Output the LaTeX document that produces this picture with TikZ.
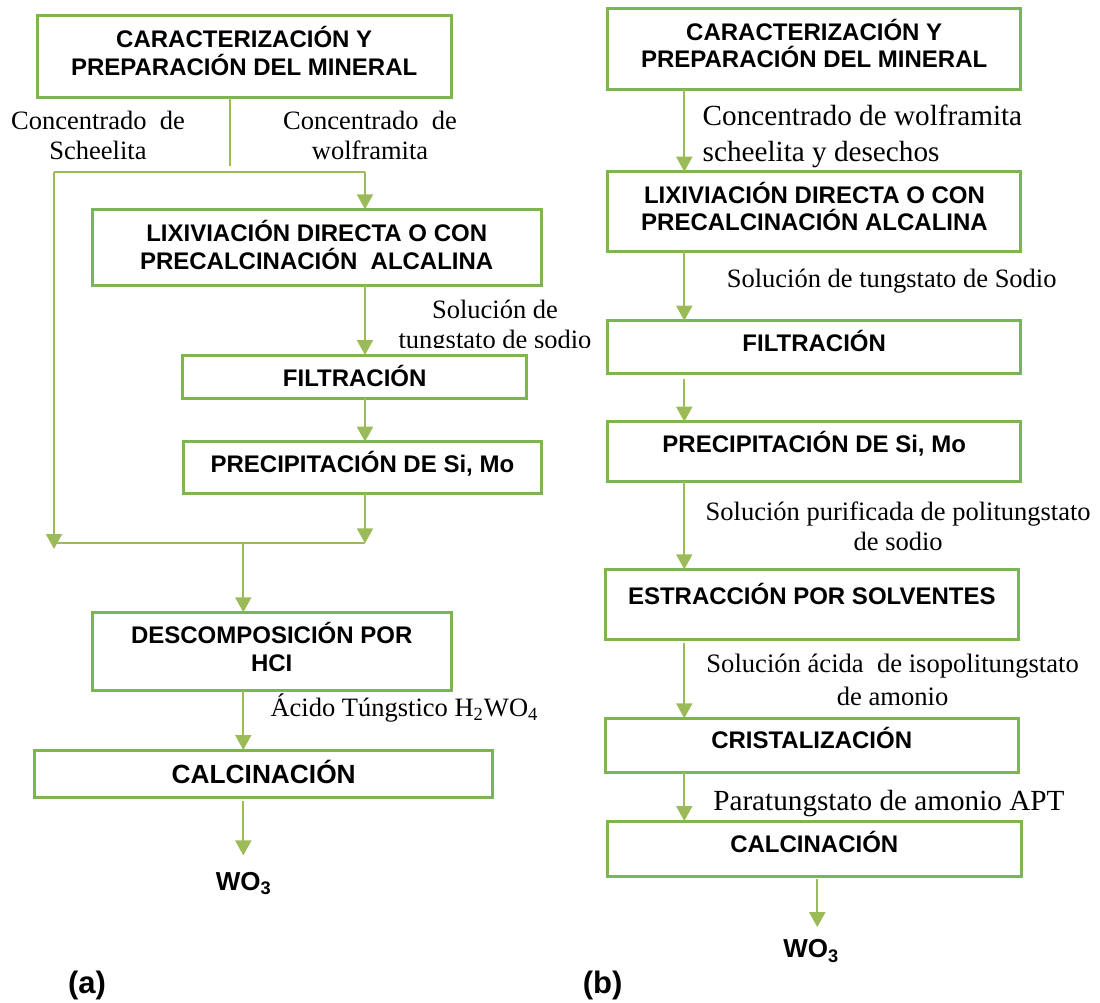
\documentclass[tikz,border=0pt]{standalone}
\usepackage{fontspec}
\setmainfont{Liberation Serif}
\setsansfont{Liberation Sans}
\usetikzlibrary{arrows.meta}
\definecolor{boxgreen}{RGB}{125,182,80}
\definecolor{arrgreen}{RGB}{155,187,89}
\begin{document}
\begin{tikzpicture}[x=0.5pt,y=-0.5pt,
  box/.style={draw=boxgreen, line width=1.5pt, fill=white, inner sep=0pt, outer sep=0pt},
  ttl/.style={font=\sffamily\bfseries\fontsize{12}{14}\selectfont, align=center, inner sep=0pt},
  ttlb/.style={font=\sffamily\bfseries\fontsize{12}{13.4}\selectfont, align=center, inner sep=0pt},
  one/.style={text height=0.716em, text depth=0pt},
  note/.style={font=\fontsize{13.25}{15}\selectfont, align=center, inner sep=0pt},
  bignote/.style={font=\fontsize{14.6}{17.7}\selectfont, inner sep=0pt},
  serifone/.style={text height=0.66em, text depth=0pt},
  link/.style={draw=arrgreen, line width=1pt},
  arr/.style={link, -{Triangle[width=8pt,length=7.5pt]}}]
\useasboundingbox (0,0) rectangle (1100,1003);

% ---------------- panel (a): labels ----------------
\node[note] (Lsch) at (98,135) {Concentrado\ \ de\\Scheelita};
\node[note] (Lwol) at (370,135) {Concentrado\ \ de\\wolframita};
\begin{scope}
  \clip (370,280) rectangle (620,347);
  \node[note] (Lsol) at (495,327) {Solución de\\tungstato de sodio};
\end{scope}
\node[note, serifone] (Lacid) at (404.5,710) {Ácido Túngstico H\textsubscript{2}WO\textsubscript{4}};

% ---------------- panel (a): boxes ----------------
\node[box, minimum width=206.9pt, minimum height=41pt] (A1) at (244.2,56.7) {};
\node[ttl] (A1t) at (244.2,51) {CARACTERIZACIÓN Y\\PREPARACIÓN DEL MINERAL};
\node[box, minimum width=224.3pt, minimum height=37.9pt] (A2) at (316.7,247.2) {};
\node[ttl] (A2t) at (316.7,244.5) {LIXIVIACIÓN DIRECTA O CON\\PRECALCINACIÓN\ \ ALCALINA};
\node[box, minimum width=172pt, minimum height=21.7pt] (A3) at (354.7,376.7) {};
\node[ttl, one] (A3t) at (354.7,379) {FILTRACIÓN};
\node[box, minimum width=178.7pt, minimum height=25.8pt] (A4) at (362.4,467.5) {};
\node[ttl, one] (A4t) at (362.4,465.7) {PRECIPITACIÓN DE Si, Mo};
\node[box, minimum width=179.3pt, minimum height=38.9pt] (A5) at (271.7,651.2) {};
\node[ttl] (A5t) at (271.7,647) {DESCOMPOSICIÓN POR\\HCI};
\node[box, minimum width=229pt, minimum height=23.9pt] (A6) at (263.7,773.9) {};
\node[font=\sffamily\bfseries\fontsize{13.15}{15}\selectfont, inner sep=0pt, one] (A6t) at (263.7,776) {CALCINACIÓN};
\node[font=\sffamily\bfseries\fontsize{13}{15}\selectfont, inner sep=0pt, one] (WOa) at (243.7,883) {WO\textsubscript{3}};
\node[font=\sffamily\bfseries\fontsize{15.5}{18}\selectfont, inner sep=0pt] (capa) at (87,985) {(a)};

% ---------------- panel (a): connectors ----------------
\coordinate (ja) at (230,166);
\coordinate (hL) at (54,172.3);
\coordinate (hR) at (365,172.3);
\coordinate (bL) at (54,543.3);
\coordinate (bLt) at (54,549);
\coordinate (bR) at (365,543.3);
\coordinate (cx) at (243.3,543.3);
\draw[link] (A1.south -| ja) -- (ja);
\draw[link] (hL) -- (hR);
\draw[arr] (hR) -- (A2.north -| hR);
\draw[arr] (hL) -- (bLt);
\draw[arr] (A2.south -| hR) -- (A3.north -| hR);
\draw[arr] (A3.south -| hR) -- (A4.north -| hR);
\draw[arr] (A4.south -| hR) -- (bR);
\draw[link] (bL) -- (bR);
\draw[arr] (cx) -- (A5.north -| cx);
\draw[arr] (A5.south -| cx) -- (A6.north -| cx);
\draw[arr] ([yshift=-1.5pt]A6.south -| cx) -- ([yshift=10pt]WOa.north -| cx);

% ---------------- panel (b): labels ----------------
\node[bignote, align=left, anchor=west] (Rcon) at (702.3,136.5) {Concentrado de wolframita\\scheelita y desechos};
\node[note, serifone] (Rsol) at (891.7,281) {Solución de tungstato de Sodio};
\begin{scope}
  \clip (690,490) rectangle (1100,550);
  \node[note] (Rpur) at (898.2,526.7) {Solución purificada de politungstato\\de sodio};
\end{scope}
\node[note, font=\fontsize{13.3}{16.7}\selectfont] (Racid) at (892.6,680) {Solución ácida\ \ de isopolitungstato\\de amonio};
\node[bignote, serifone] (Rapt) at (888.9,804) {Paratungstato de amonio APT};

% ---------------- panel (b): boxes ----------------
\node[box, minimum width=206.5pt, minimum height=40.5pt] (B1) at (814.2,48.8) {};
\node[ttlb] (B1t) at (814.2,43.3) {CARACTERIZACIÓN Y\\PREPARACIÓN DEL MINERAL};
\node[box, minimum width=206.5pt, minimum height=39.7pt] (B2) at (814.2,211.4) {};
\node[ttlb] (B2t) at (814.5,206.8) {LIXIVIACIÓN DIRECTA O CON\\PRECALCINACIÓN ALCALINA};
\node[box, minimum width=206.5pt, minimum height=26.3pt] (B3) at (814.2,347) {};
\node[ttlb, one] (B3t) at (814.2,344) {FILTRACIÓN};
\node[box, minimum width=206.5pt, minimum height=29.7pt] (B4) at (814.2,451.4) {};
\node[ttlb, one] (B4t) at (814.2,445) {PRECIPITACIÓN DE Si, Mo};
\node[box, minimum width=206.7pt, minimum height=34.9pt] (B5) at (811.7,604.2) {};
\node[ttlb, one] (B5t) at (811.8,597.3) {ESTRACCIÓN POR SOLVENTES};
\node[box, minimum width=206.7pt, minimum height=27pt] (B6) at (811.7,745.3) {};
\node[ttlb, one] (B6t) at (811.7,741.7) {CRISTALIZACIÓN};
\node[box, minimum width=206.7pt, minimum height=27.5pt] (B7) at (814.4,848.5) {};
\node[ttlb, one] (B7t) at (814.3,845) {CALCINACIÓN};
\node[font=\sffamily\bfseries\fontsize{13}{15}\selectfont, inner sep=0pt, one] (WOb) at (811.2,950.7) {WO\textsubscript{3}};
\node[font=\sffamily\bfseries\fontsize{15.5}{18}\selectfont, inner sep=0pt] (capb) at (602.7,985) {(b)};

% ---------------- panel (b): connectors ----------------
\coordinate (bx) at (684.3,0);
\coordinate (bw) at (817.3,0);
\draw[arr] (B1.south -| bx) -- (B2.north -| bx);
\draw[arr] (B2.south -| bx) -- (B3.north -| bx);
\draw[arr] ([yshift=-3pt]B3.south -| bx) -- (B4.north -| bx);
\draw[arr] (B4.south -| bx) -- (B5.north -| bx);
\draw[arr] ([yshift=-2pt]B5.south -| bx) -- (B6.north -| bx);
\draw[arr] (B6.south -| bx) -- (B7.north -| bx);
\draw[arr] ([yshift=-1.5pt]B7.south -| bw) -- ([yshift=8pt]WOb.north -| bw);
\end{tikzpicture}
\end{document}
